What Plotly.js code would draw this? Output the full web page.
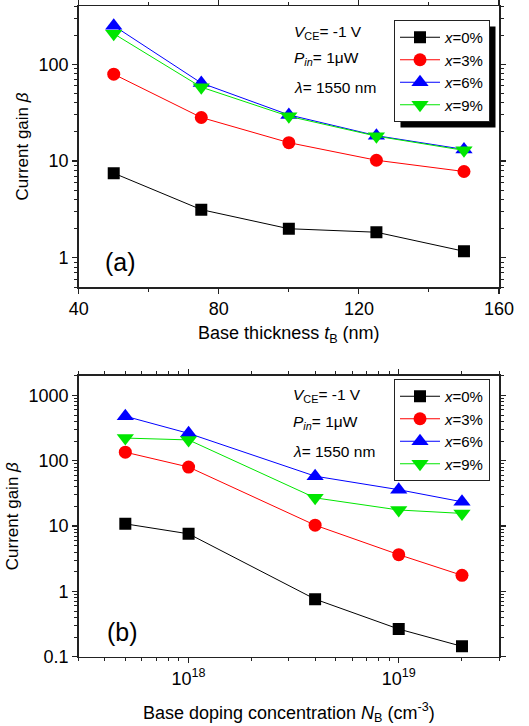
<!DOCTYPE html>
<html><head><meta charset="utf-8">
<script src="https://cdn.plot.ly/plotly-3.0.1.min.js"></script>
<style>html,body{margin:0;padding:0;background:#fff}#plot{width:529px;height:726px}</style>
</head><body><div id="plot"></div>
<script>
// Panel (a): base thickness (nm)
const thickness = [50, 75, 100, 125, 150];
const gainA_x0 = [7.5, 3.15, 2.0, 1.84, 1.17];
const gainA_x3 = [79, 28.2, 15.5, 10.2, 7.8];
const gainA_x6 = [250, 64, 30, 18.3, 13.2];
const gainA_x9 = [207, 58, 29, 18.1, 12.9];
// Panel (b): base doping concentration (cm^-3)
const doping = [5e17, 1e18, 4e18, 1e19, 2e19];
const gainB_x0 = [10.8, 7.6, 0.76, 0.265, 0.144];
const gainB_x3 = [135, 80, 10.3, 3.65, 1.76];
const gainB_x6 = [480, 262, 58, 36, 23.5];
const gainB_x9 = [222, 208, 27, 17.6, 15.6];
const seriesNames = ['<i>x</i>=0%', '<i>x</i>=3%', '<i>x</i>=6%', '<i>x</i>=9%'];
const colors = ['#000000', '#ff0000', '#0000ff', '#00e600'];
const symbols = ['square', 'circle', 'triangle-up', 'triangle-down'];
const msizes = [12, 13, 15, 15];
const tickA_y = [1, 10, 100];
const tickB_y = [0.1, 1, 10, 100, 1000];
const tickB_x = [1e18, 1e19];
const tickB_xtext = ['10<sup>18</sup>', '10<sup>19</sup>'];

const FONT = 'Liberation Sans, Arial, sans-serif';
const W = 529, H = 726;
const traces = [];
const A = [gainA_x0, gainA_x3, gainA_x6, gainA_x9];
const B = [gainB_x0, gainB_x3, gainB_x6, gainB_x9];
for (let i = 0; i < 4; i++) {
  traces.push({x: thickness, y: A[i], xaxis: 'x', yaxis: 'y', name: seriesNames[i], legend: 'legend',
    mode: 'lines+markers', line: {color: colors[i], width: 1},
    marker: {symbol: symbols[i], size: msizes[i], color: colors[i]}});
}
for (let i = 0; i < 4; i++) {
  traces.push({x: doping, y: B[i], xaxis: 'x2', yaxis: 'y2', name: seriesNames[i], legend: 'legend2',
    mode: 'lines+markers', line: {color: colors[i], width: 1},
    marker: {symbol: symbols[i], size: msizes[i], color: colors[i]}});
}
const px = v => v / W, py = v => 1 - v / H;
const axBase = {showline: true, linecolor: '#222', linewidth: 1.5, mirror: 'allticks', ticks: 'outside',
  ticklen: 5, tickwidth: 1.2, tickcolor: '#222', showgrid: false, zeroline: false,
  tickfont: {family: FONT, size: 18, color: '#000'}};
const xTitleFont = {family: FONT, size: 18, color: '#000'};
const yTitleFont = {family: FONT, size: 17, color: '#000'};
const minorLog = {ticks: 'outside', ticklen: 3, tickcolor: '#222', tickwidth: 1, dtick: 'D1'};
const legendBase = {xanchor: 'left', yanchor: 'top', bgcolor: '#fff', bordercolor: '#222',
  borderwidth: 1, font: {family: FONT, size: 15, color: '#000'}, itemwidth: 40, tracegroupgap: 0};
const annFont = {family: FONT, size: 15.5, color: '#000'};
const layout = {
  width: W, height: H, margin: {l: 0, r: 0, t: 0, b: 0}, paper_bgcolor: '#fff', plot_bgcolor: '#fff',
  showlegend: true,
  xaxis: Object.assign({}, axBase, {domain: [px(78.7), px(499)], anchor: 'y', range: [40, 160],
    tickvals: [40, 80, 120, 160], minor: {dtick: 20, ticks: 'outside', ticklen: 3, tickcolor: '#222', tickwidth: 1},
    title: {text: 'Base thickness <i>t</i><sub>B</sub> (nm)', font: xTitleFont, standoff: 8}}),
  yaxis: Object.assign({}, axBase, {domain: [py(287), py(6)], anchor: 'x', type: 'log',
    range: [Math.log10(0.5), Math.log10(400)], tickvals: tickA_y, ticktext: ['1', '10', '100'],
    minor: minorLog,
    title: {text: 'Current gain <i>β</i>', font: yTitleFont, standoff: 5}}),
  xaxis2: Object.assign({}, axBase, {domain: [px(78.7), px(499)], anchor: 'y2', type: 'log',
    range: [Math.log10(3e17), Math.log10(3e19)], tickvals: tickB_x, ticktext: tickB_xtext,
    minor: minorLog,
    title: {text: 'Base doping concentration <i>N</i><sub>B</sub> (cm<sup>-3</sup>)', font: xTitleFont, standoff: 18}}),
  yaxis2: Object.assign({}, axBase, {domain: [py(656.7), py(375.7)], anchor: 'x2', type: 'log',
    range: [-1, Math.log10(2000)], tickvals: tickB_y, ticktext: ['0.1', '1', '10', '100', '1000'],
    minor: minorLog,
    title: {text: 'Current gain <i>β</i>', font: yTitleFont, standoff: 5}}),
  legend: Object.assign({}, legendBase, {x: px(394), y: py(20)}),
  legend2: Object.assign({}, legendBase, {x: px(394), y: py(379)}),
  annotations: [
    {xref: 'paper', yref: 'paper', x: px(292), y: py(32), xanchor: 'left', yanchor: 'middle', showarrow: false,
      text: '<i>V</i><sub>CE</sub>= -1 V', font: annFont},
    {xref: 'paper', yref: 'paper', x: px(292), y: py(58), xanchor: 'left', yanchor: 'middle', showarrow: false,
      text: '<i>P</i><sub><i>in</i></sub>= 1μW', font: annFont},
    {xref: 'paper', yref: 'paper', x: px(292), y: py(87), xanchor: 'left', yanchor: 'middle', showarrow: false,
      text: '<i>λ</i>= 1550 nm', font: annFont},
    {xref: 'paper', yref: 'paper', x: px(291), y: py(395), xanchor: 'left', yanchor: 'middle', showarrow: false,
      text: '<i>V</i><sub>CE</sub>= -1 V', font: annFont},
    {xref: 'paper', yref: 'paper', x: px(291), y: py(422), xanchor: 'left', yanchor: 'middle', showarrow: false,
      text: '<i>P</i><sub><i>in</i></sub>= 1μW', font: annFont},
    {xref: 'paper', yref: 'paper', x: px(291), y: py(451), xanchor: 'left', yanchor: 'middle', showarrow: false,
      text: '<i>λ</i>= 1550 nm', font: annFont},
    {xref: 'paper', yref: 'paper', x: px(103), y: py(262), xanchor: 'left', yanchor: 'middle', showarrow: false,
      text: '(a)', font: {family: FONT, size: 25, color: '#000'}},
    {xref: 'paper', yref: 'paper', x: px(105), y: py(632), xanchor: 'left', yanchor: 'middle', showarrow: false,
      text: '(b)', font: {family: FONT, size: 25, color: '#000'}}
  ]
};
const gd = document.getElementById('plot');
Plotly.newPlot(gd, traces, layout, {displayModeBar: false, staticPlot: true}).then(() => {
  // drop shadow behind each legend box, sized from the drawn legend
  const host = gd.getBoundingClientRect();
  const shapes = [];
  gd.querySelectorAll('g.legend rect.bg').forEach(r => {
    const b = r.getBoundingClientRect();
    const x0 = b.left - host.left + 6, y0 = b.top - host.top + 6;
    shapes.push({type: 'rect', xref: 'paper', yref: 'paper', layer: 'above',
      x0: px(x0), x1: px(x0 + b.width), y0: py(y0 + b.height), y1: py(y0),
      fillcolor: '#000', line: {width: 0}});
  });
  return Plotly.relayout(gd, {shapes: shapes});
});
</script></body></html>
